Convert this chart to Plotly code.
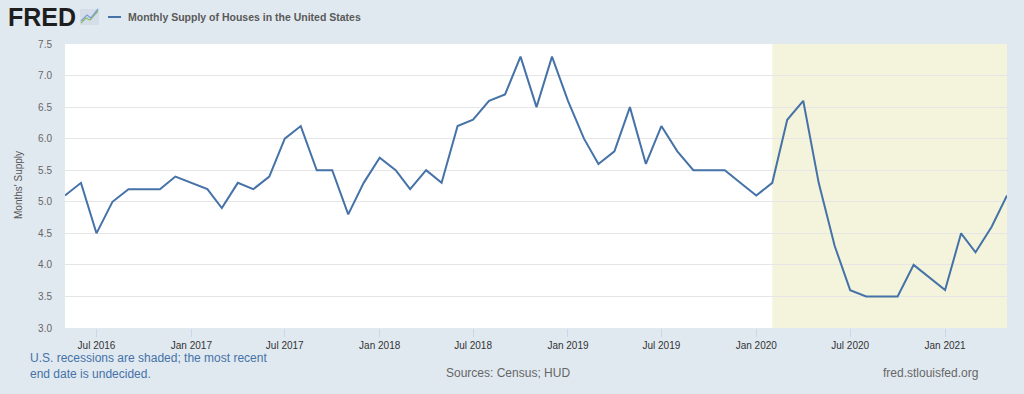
import plotly.graph_objects as go
import pandas as pd

# ---- data ----
start_month = "2016-05-01"
supply = [
    5.1, 5.3, 4.5, 5.0, 5.2, 5.2, 5.2, 5.4,                      # 2016 May-Dec
    5.3, 5.2, 4.9, 5.3, 5.2, 5.4, 6.0, 6.2, 5.5, 5.5, 4.8, 5.3,  # 2017
    5.7, 5.5, 5.2, 5.5, 5.3, 6.2, 6.3, 6.6, 6.7, 7.3, 6.5, 7.3,  # 2018
    6.6, 6.0, 5.6, 5.8, 6.5, 5.6, 6.2, 5.8, 5.5, 5.5, 5.5, 5.3,  # 2019
    5.1, 5.3, 6.3, 6.6, 5.3, 4.3, 3.6, 3.5, 3.5, 3.5, 4.0, 3.8,  # 2020
    3.6, 4.5, 4.2, 4.6, 5.1,                                     # 2021 Jan-May
]
dates = pd.date_range(start_month, periods=len(supply), freq="MS")

tick_dates = ["2016-07-01", "2017-01-01", "2017-07-01", "2018-01-01", "2018-07-01",
              "2019-01-01", "2019-07-01", "2020-01-01", "2020-07-01", "2021-01-01"]
tick_labels = ["Jul 2016", "Jan 2017", "Jul 2017", "Jan 2018", "Jul 2018",
               "Jan 2019", "Jul 2019", "Jan 2020", "Jul 2020", "Jan 2021"]
recession_start = "2020-02-01"
series_name = "Monthly Supply of Houses in the United States"

# ---- layout geometry ----
W, H = 1024, 394
L, R, T, B = 65, 17, 44, 66
pw, ph = W - L - R, H - T - B

def px(x):
    return (x - L) / pw

def py(y):
    return (H - B - y) / ph

fig = go.Figure()
fig.add_trace(go.Scatter(
    x=dates, y=supply, mode="lines",
    line=dict(color="#4572a7", width=2),
    name=series_name, hoverinfo="x+y",
))

shapes = [
    dict(type="rect", xref="x", yref="paper", x0=recession_start, x1=dates[-1],
         y0=0, y1=1, fillcolor="#f4f4dc", line=dict(width=0), layer="below"),
    # legend swatch
    dict(type="line", xref="paper", yref="paper", x0=px(108), x1=px(121),
         y0=py(17), y1=py(17), line=dict(color="#4572a7", width=2)),
    # logo icon
    dict(type="rect", xref="paper", yref="paper", x0=px(80), x1=px(99),
         y0=py(25), y1=py(9), fillcolor="#d5dde8", line=dict(width=0)),
    dict(type="path", xref="paper", yref="paper",
         path=f"M {px(81)},{py(23)} L {px(86)},{py(18)} L {px(90)},{py(20)} L {px(98)},{py(11)}",
         line=dict(color="#8cbf5f", width=1.3)),
    dict(type="path", xref="paper", yref="paper",
         path=f"M {px(81)},{py(21)} L {px(87)},{py(15)} L {px(91)},{py(18)} L {px(98)},{py(9)}",
         line=dict(color="#7d9fd0", width=1.3)),
]

ann = [
    dict(text="<b>FRED</b>", x=px(6), y=py(17), xanchor="left", yanchor="middle",
         font=dict(size=25, color="#1e1e1e", family="Liberation Sans, Arial")),
    dict(text="<b>" + series_name + "</b>", x=px(126), y=py(17), xanchor="left", yanchor="middle",
         font=dict(size=10.5, color="#595959")),
    dict(text="Months' Supply", x=px(18), y=py(185), xanchor="center", yanchor="middle",
         textangle=-90, font=dict(size=10, color="#555555")),
    dict(text="U.S. recessions are shaded; the most recent<br>end date is undecided.",
         x=px(28), y=py(349), xanchor="left", yanchor="top", align="left",
         font=dict(size=12, color="#4572a7")),
    dict(text="Sources: Census; HUD", x=px(508), y=py(373), xanchor="center", yanchor="middle",
         font=dict(size=12, color="#666666")),
    dict(text="fred.stlouisfed.org", x=px(980), y=py(373), xanchor="right", yanchor="middle",
         font=dict(size=12, color="#666666")),
]
for a in ann:
    a.update(xref="paper", yref="paper", showarrow=False)

fig.update_layout(
    width=W, height=H,
    margin=dict(l=L, r=R, t=T, b=B, autoexpand=False),
    paper_bgcolor="#e1e9f0", plot_bgcolor="#ffffff",
    font=dict(family="Liberation Sans, Arial, sans-serif", size=10, color="#555555"),
    showlegend=False,
    shapes=shapes, annotations=ann,
    xaxis=dict(
        type="date", range=[dates[0], dates[-1]],
        tickvals=tick_dates, ticktext=tick_labels,
        showgrid=False, zeroline=False, showline=False,
        ticks="outside", ticklen=8, tickcolor="#ccd6eb", tickwidth=1,
        tickfont=dict(size=10, color="#333333"),
    ),
    yaxis=dict(
        range=[3.0, 7.5], dtick=0.5, tickformat=".1f",
        showgrid=True, gridcolor="#e6e6e6", gridwidth=1,
        zeroline=False, showline=False,
        ticks="", ticklabelstandoff=12,
        tickfont=dict(size=10, color="#666666"),
    ),
)

fig.write_html(
    "out.html",
    config={"displayModeBar": False},
    post_script="document.body.style.margin='0';document.body.style.background='#e1e9f0';",
)
